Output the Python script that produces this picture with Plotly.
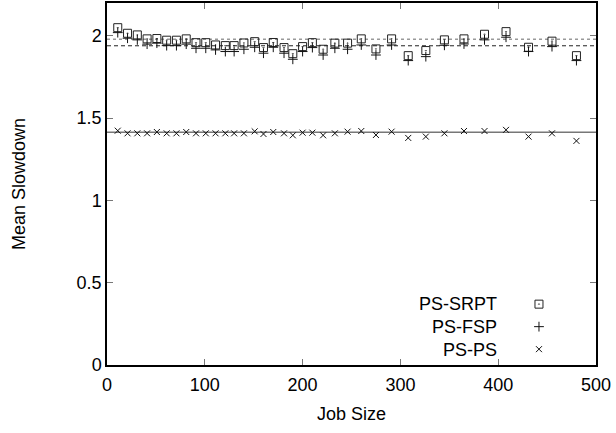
import plotly.graph_objects as go

# job size of each sample point
job_size = [11, 21, 31, 41, 51, 61, 71, 81, 91, 101, 111, 121, 130, 140, 151, 160,
            170, 181, 190, 200, 210, 221, 233, 246, 260, 275, 291, 308, 326, 345,
            365, 386, 408, 431, 455, 480]

ps_srpt = [2.050, 2.016, 2.006, 1.982, 1.984, 1.974, 1.974, 1.982, 1.959, 1.959,
           1.945, 1.941, 1.941, 1.957, 1.965, 1.929, 1.960, 1.929, 1.892, 1.935,
           1.959, 1.919, 1.956, 1.956, 1.982, 1.921, 1.982, 1.880, 1.911, 1.976,
           1.982, 2.010, 2.026, 1.931, 1.968, 1.880]

ps_fsp = [2.020, 1.986, 1.976, 1.950, 1.956, 1.941, 1.941, 1.950, 1.925, 1.925,
          1.915, 1.905, 1.905, 1.919, 1.931, 1.895, 1.931, 1.895, 1.858, 1.905,
          1.929, 1.884, 1.925, 1.919, 1.945, 1.884, 1.945, 1.850, 1.874, 1.943,
          1.951, 1.976, 1.992, 1.905, 1.935, 1.850]

ps_ps = [1.424, 1.408, 1.408, 1.408, 1.416, 1.408, 1.408, 1.416, 1.408, 1.408,
         1.408, 1.408, 1.408, 1.408, 1.420, 1.404, 1.416, 1.408, 1.396, 1.412,
         1.412, 1.396, 1.408, 1.418, 1.422, 1.398, 1.418, 1.380, 1.388, 1.408,
         1.422, 1.422, 1.429, 1.388, 1.408, 1.362]

# overall means (horizontal reference lines)
mean_srpt = 1.979
mean_fsp = 1.940
mean_ps = 1.415

series_names = ["PS-SRPT", "PS-FSP", "PS-PS"]
x_ticks = [0, 100, 200, 300, 400, 500]
y_ticks = [0, 0.5, 1, 1.5, 2]

FONT = "Liberation Sans, Arial, sans-serif"
FS = 18

fig = go.Figure()

fig.add_trace(go.Scatter(
    x=job_size, y=ps_srpt, mode="markers", name="",
    marker=dict(symbol="square-open-dot", size=8, color="#222222",
                line=dict(width=1, color="#222222")),
))
fig.add_trace(go.Scatter(
    x=job_size, y=ps_fsp, mode="markers", name="",
    marker=dict(symbol="cross-thin-open", size=7, color="#111111",
                line=dict(width=1, color="#111111")),
))
fig.add_trace(go.Scatter(
    x=job_size, y=ps_ps, mode="markers", name="",
    marker=dict(symbol="x-thin-open", size=6, color="#111111",
                line=dict(width=1, color="#111111")),
))

fig.add_hline(y=mean_srpt, line=dict(color="#999999", width=1.5, dash="dot"), layer="below")
fig.add_hline(y=mean_fsp, line=dict(color="#222222", width=1, dash="4px,3px"), layer="below")
fig.add_hline(y=mean_ps, line=dict(color="#777777", width=1.5), layer="below")

# legend labels, right aligned to the left of the legend symbols
for name, yy in zip(series_names, [0.168, 0.105, 0.042]):
    fig.add_annotation(text=name, xref="paper", yref="paper", x=0.802, y=yy,
                       xanchor="right", yanchor="middle", showarrow=False,
                       font=dict(family=FONT, size=FS, color="black"))

axis_common = dict(
    showline=True, linecolor="black", linewidth=1.5, mirror="ticks",
    ticks="inside", ticklen=6, tickwidth=1, tickcolor="#777777",
    showgrid=False, zeroline=False, automargin=False,
    tickfont=dict(family=FONT, size=FS, color="black"),
)

fig.update_layout(
    width=616, height=433,
    margin=dict(l=107, r=20, t=3, b=68),
    paper_bgcolor="white", plot_bgcolor="white",
    font=dict(family=FONT, size=FS, color="black"),
    xaxis=dict(range=[0, 500], tickvals=x_ticks, ticklabelstandoff=3,
               title=dict(text="Job Size", standoff=13,
                          font=dict(family=FONT, size=FS)),
               **axis_common),
    yaxis=dict(range=[0, 2.2], tickvals=y_ticks,
               ticktext=[str(v) for v in y_ticks],
               title=dict(text="Mean Slowdown", standoff=46,
                          font=dict(family=FONT, size=FS)),
               **axis_common),
    legend=dict(x=0.8425, y=0.213, xanchor="left", yanchor="top",
                bgcolor="rgba(0,0,0,0)", font=dict(family=FONT, size=15),
                itemwidth=30, tracegroupgap=0),
    showlegend=True,
)

fig.write_html("out.html", config={"displayModeBar": False},
               post_script="document.body.style.margin='0';")
